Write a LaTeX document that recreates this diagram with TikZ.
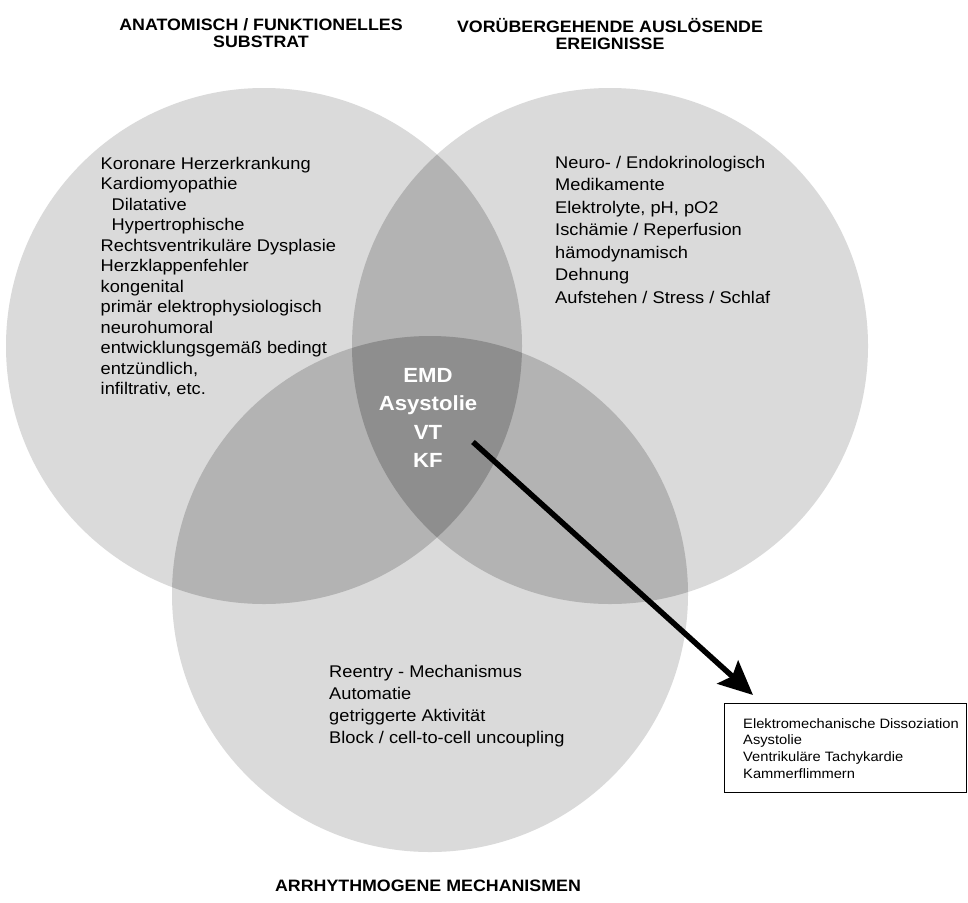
\documentclass[tikz,border=0pt]{standalone}
\usepackage{fontspec}
\setmainfont{Liberation Sans}[FakeStretch=1.08]
\usetikzlibrary{arrows.meta}
\definecolor{cone}{HTML}{DADADA}
\definecolor{ctwo}{HTML}{B3B3B3}
\definecolor{cthree}{HTML}{8E8E8E}
\begin{document}
\begin{tikzpicture}[x=1pt,y=-1pt,
  hdr/.style={font=\fontsize{16.5pt}{17pt}\selectfont\bfseries, align=center, inner sep=0pt},
  bodytxt/.style={align=left, inner sep=0pt, anchor=north west},
  centre/.style={font=\fontsize{20.5pt}{28.3pt}\selectfont\bfseries, text=white, align=center, inner sep=0pt, anchor=north},
  boxtxt/.style={font=\fontsize{13.6pt}{16.7pt}\selectfont, align=left, inner sep=0pt, anchor=north west},
  outbox/.style={draw=black, line width=1.2pt, minimum width=242pt, minimum height=89pt, inner sep=0pt, anchor=north west},
  bigarrow/.style={line width=5.5pt, -{Stealth[length=34pt, width=31pt, inset=6pt]}}]
\useasboundingbox (0,0) rectangle (968,902);
\fill[white] (0,0) rectangle (968,902);
% circle centres
\coordinate (cl) at (264,346);
\coordinate (cr) at (610,346);
\coordinate (cb) at (430,594);
% single regions
\fill[cone] (cl) circle[radius=258pt];
\fill[cone] (cr) circle[radius=258pt];
\fill[cone] (cb) circle[radius=258pt];
% pairwise overlaps
\begin{scope}
  \clip (cl) circle[radius=258pt];
  \fill[ctwo] (cr) circle[radius=258pt];
  \fill[ctwo] (cb) circle[radius=258pt];
\end{scope}
\begin{scope}
  \clip (cr) circle[radius=258pt];
  \fill[ctwo] (cb) circle[radius=258pt];
\end{scope}
% triple overlap
\begin{scope}
  \clip (cl) circle[radius=258pt];
  \clip (cr) circle[radius=258pt];
  \fill[cthree] (cb) circle[radius=258pt];
\end{scope}
% headers
\node[hdr, anchor=north] (hleft) at (261,18) {ANATOMISCH / FUNKTIONELLES\\SUBSTRAT};
\node[hdr, anchor=north] (hright) at (610,18.5) {VORÜBERGEHENDE AUSLÖSENDE\\EREIGNISSE};
\node[hdr, anchor=base] (hbottom) at (428,891) {ARRHYTHMOGENE MECHANISMEN};
% circle texts
\node[bodytxt, font=\fontsize{16.9pt}{20.5pt}\selectfont] (tleft) at (100.5,156.7) {Koronare Herzerkrankung\\Kardiomyopathie\\\hspace*{11pt}Dilatative\\\hspace*{11pt}Hypertrophische\\Rechtsventrikuläre Dysplasie\\Herzklappenfehler\\kongenital\\primär elektrophysiologisch\\neurohumoral\\entwicklungsgemäß bedingt\\entzündlich,\\infiltrativ, etc.};
\node[bodytxt, font=\fontsize{16.9pt}{22.5pt}\selectfont] (tright) at (555,155.7) {Neuro- / Endokrinologisch\\Medikamente\\Elektrolyte, pH, pO2\\Ischämie / Reperfusion\\hämodynamisch\\Dehnung\\Aufstehen / Stress / Schlaf};
\node[bodytxt, font=\fontsize{16.9pt}{22pt}\selectfont] (tbottom) at (329,664.7) {Reentry - Mechanismus\\Automatie\\getriggerte Aktivität\\Block / cell-to-cell uncoupling};
\node[centre] (tcentre) at (428,368.3) {EMD\\Asystolie\\VT\\KF};
% result box
\node[outbox] (box) at (724,703) {};
\node[boxtxt] (boxtext) at (743,718) {Elektromechanische Dissoziation\\Asystolie\\Ventrikuläre Tachykardie\\Kammerflimmern};
% arrow
\coordinate (astart) at (473,442);
\coordinate (atip) at (753,695);
\draw[bigarrow] (astart) -- (atip);
\end{tikzpicture}
\end{document}
